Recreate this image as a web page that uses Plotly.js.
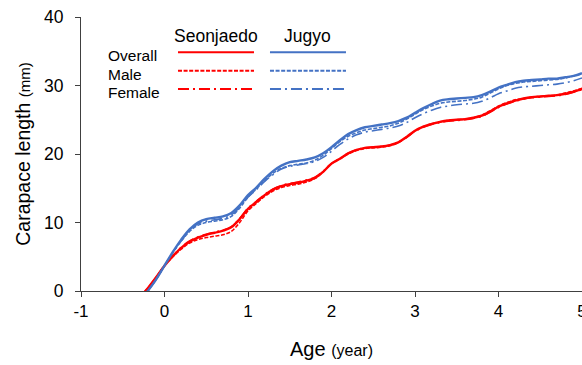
<!DOCTYPE html>
<html>
<head>
<meta charset="utf-8">
<script src="https://cdn.plot.ly/plotly-3.0.1.min.js"></script>
<style>
  html, body { margin: 0; padding: 0; background: #fff; }
  #chart { width: 582px; height: 365px; }
</style>
</head>
<body>
<div id="chart"></div>
<script>
// Age (years) at which carapace length is tabulated
const age = [-0.25, -0.2, -0.1, 0.0, 0.1, 0.2, 0.3, 0.4, 0.5, 0.6, 0.7, 0.8, 0.9,
  1.0, 1.1, 1.2, 1.3, 1.4, 1.5, 1.6, 1.7, 1.8, 1.9,
  2.0, 2.1, 2.2, 2.3, 2.4, 2.5, 2.6, 2.7, 2.8, 2.9,
  3.0, 3.1, 3.2, 3.3, 3.4, 3.5, 3.6, 3.7, 3.8, 3.9,
  4.0, 4.1, 4.2, 4.3, 4.4, 4.5, 4.6, 4.7, 4.8, 4.9, 5.0];

// Seonjaedo growth curves (mm)
const seonjaedoOverall = [-0.3, 0.4, 2.0, 3.7, 5.1, 6.3, 7.2, 7.8, 8.2, 8.5, 8.8, 9.3, 10.5,
  12.0, 13.0, 14.0, 14.8, 15.3, 15.6, 15.8, 16.1, 16.5, 17.4,
  18.6, 19.3, 20.1, 20.6, 20.9, 21.0, 21.1, 21.3, 21.7, 22.5,
  23.4, 24.0, 24.4, 24.7, 24.9, 25.0, 25.1, 25.3, 25.6, 26.2,
  26.9, 27.4, 27.8, 28.1, 28.3, 28.4, 28.5, 28.6, 28.8, 29.1, 29.5];
const seonjaedoMale = [-0.3, 0.4, 2.0, 3.7, 5.0, 6.1, 7.0, 7.5, 7.8, 8.0, 8.2, 8.7, 10.0,
  11.7, 12.8, 13.8, 14.6, 15.1, 15.4, 15.6, 15.9, 16.4, 17.4,
  18.6, 19.3, 20.0, 20.5, 20.8, 20.9, 21.0, 21.2, 21.7, 22.5,
  23.4, 24.0, 24.4, 24.7, 24.9, 25.0, 25.1, 25.3, 25.7, 26.3,
  27.0, 27.5, 27.9, 28.1, 28.3, 28.4, 28.5, 28.6, 28.9, 29.2, 29.6];
const seonjaedoFemale = [-0.3, 0.4, 2.0, 3.7, 5.1, 6.4, 7.3, 7.9, 8.3, 8.6, 8.9, 9.4, 10.6,
  12.1, 13.1, 14.1, 14.9, 15.4, 15.7, 15.9, 16.2, 16.6, 17.5,
  18.6, 19.3, 20.1, 20.6, 20.9, 21.0, 21.1, 21.3, 21.7, 22.4,
  23.3, 23.9, 24.3, 24.6, 24.8, 24.9, 25.0, 25.2, 25.5, 26.1,
  26.8, 27.3, 27.7, 28.0, 28.2, 28.3, 28.4, 28.5, 28.7, 29.0, 29.4];

// Jugyo growth curves (mm)
const jugyoOverall = [-0.8, 0.0, 1.7, 3.7, 5.7, 7.5, 9.0, 10.0, 10.5, 10.7, 10.9, 11.4, 12.5,
  14.0, 15.1, 16.4, 17.5, 18.3, 18.8, 19.0, 19.2, 19.5, 20.1,
  21.0, 22.0, 22.9, 23.5, 23.9, 24.1, 24.3, 24.5, 24.8, 25.3,
  26.0, 26.7, 27.3, 27.8, 28.0, 28.1, 28.2, 28.3, 28.6, 29.1,
  29.7, 30.1, 30.5, 30.7, 30.8, 30.9, 31.0, 31.0, 31.2, 31.4, 31.8];
const jugyoMale = [-0.8, 0.0, 1.7, 3.7, 5.6, 7.3, 8.7, 9.6, 10.0, 10.2, 10.4, 10.9, 12.1,
  13.7, 14.9, 16.1, 17.2, 17.9, 18.3, 18.5, 18.7, 19.1, 19.8,
  20.8, 21.8, 22.6, 23.1, 23.5, 23.7, 23.9, 24.1, 24.5, 25.1,
  25.8, 26.5, 27.0, 27.4, 27.6, 27.7, 27.8, 28.0, 28.3, 28.9,
  29.5, 30.0, 30.3, 30.5, 30.6, 30.7, 30.8, 30.9, 31.1, 31.4, 31.7];
const jugyoFemale = [-0.8, 0.0, 1.7, 3.7, 5.6, 7.3, 8.8, 9.8, 10.2, 10.4, 10.6, 11.1, 12.2,
  13.7, 14.8, 16.0, 17.0, 17.8, 18.2, 18.4, 18.6, 18.9, 19.5,
  20.4, 21.4, 22.2, 22.8, 23.2, 23.4, 23.6, 23.8, 24.1, 24.6,
  25.3, 25.9, 26.4, 26.8, 27.0, 27.2, 27.3, 27.4, 27.7, 28.2,
  28.8, 29.2, 29.6, 29.8, 29.9, 30.0, 30.1, 30.2, 30.4, 30.7, 31.1];

const sites = ["Seonjaedo", "Jugyo"];
const groups = ["Overall", "Male", "Female"];

// Axis ticks (hyphen-minus kept as written on the axis)
const xTickVals = [-1, 0, 1, 2, 3, 4, 5];
const xTickText = ["-1", "0", "1", "2", "3", "4", "5"];
const yTickVals = [0, 10, 20, 30, 40];

// Styling
const siteColor = { Seonjaedo: "#FF0000", Jugyo: "#4472C4" };
const groupDash = { Overall: "solid", Male: "4px,1.6px", Female: "11px,4px,2px,4px" };
const groupWidth = { Overall: 2.4, Male: 1.6, Female: 1.6 };

const series = {
  Seonjaedo: { Overall: seonjaedoOverall, Male: seonjaedoMale, Female: seonjaedoFemale },
  Jugyo: { Overall: jugyoOverall, Male: jugyoMale, Female: jugyoFemale }
};

const FONT = "'Liberation Sans', Arial, sans-serif";

// Draw sex-specific curves first, overall curves on top
const traces = [];
["Female", "Male", "Overall"].forEach(g => {
  sites.forEach(s => {
    traces.push({
      type: "scatter", mode: "lines",
      name: s + " " + g,
      x: age, y: series[s][g],
      line: { color: siteColor[s], dash: groupDash[g], width: groupWidth[g],
              shape: "spline", smoothing: 1 },
      showlegend: false, hoverinfo: "x+y+name"
    });
  });
});

// Key: grid of site columns and group rows, placed in paper coordinates
const keyRowY = { Overall: 0.871, Male: 0.804, Female: 0.737 };
const keyTextY = { Overall: 0.858, Male: 0.791, Female: 0.724 };
const keyCols = { Seonjaedo: [0.1936, 0.3453], Jugyo: [0.3772, 0.5289] };

const shapes = [];
sites.forEach(s => {
  groups.forEach(g => {
    shapes.push({
      type: "line", xref: "paper", yref: "paper",
      x0: keyCols[s][0], x1: keyCols[s][1], y0: keyRowY[g], y1: keyRowY[g],
      line: { color: siteColor[s], dash: groupDash[g], width: 2 }
    });
  });
});

const annotations = [];
sites.forEach(s => {
  annotations.push({
    xref: "paper", yref: "paper",
    x: (keyCols[s][0] + keyCols[s][1]) / 2, y: 0.930,
    xanchor: "center", yanchor: "middle", showarrow: false,
    text: s, font: { family: FONT, size: 17.5, color: "#000" }
  });
});
groups.forEach(g => {
  annotations.push({
    xref: "paper", yref: "paper",
    x: 0.049, y: keyTextY[g],
    xanchor: "left", yanchor: "middle", showarrow: false,
    text: g, font: { family: FONT, size: 15.5, color: "#000" }
  });
});

const layout = {
  width: 582, height: 365,
  margin: { l: 81, r: 0, t: 17, b: 74 },
  paper_bgcolor: "#fff", plot_bgcolor: "#fff",
  font: { family: FONT, color: "#000" },
  xaxis: {
    range: [-1, 5], tickmode: "array", tickvals: xTickVals, ticktext: xTickText,
    ticklabeloverflow: "allow",
    showgrid: false, zeroline: false,
    showline: true, linecolor: "#404040", linewidth: 1,
    ticks: "outside", ticklen: 5, tickcolor: "#404040",
    tickfont: { family: FONT, size: 17, color: "#000" },
    title: { text: "Age <span style='font-size:16px'>(year)</span>",
             font: { family: FONT, size: 20, color: "#000" }, standoff: 21 }
  },
  yaxis: {
    range: [0, 40], tickmode: "array", tickvals: yTickVals,
    showgrid: false, zeroline: false,
    showline: true, linecolor: "#404040", linewidth: 1,
    ticks: "outside", ticklen: 5, tickcolor: "#404040",
    ticklabelstandoff: 8,
    tickfont: { family: FONT, size: 17.5, color: "#000" },
    title: { text: "Carapace length <span style='font-size:15px'>(mm)</span>",
             font: { family: FONT, size: 19.5, color: "#000" }, standoff: 8 }
  },
  shapes: shapes,
  annotations: annotations,
  showlegend: false
};

Plotly.newPlot("chart", traces, layout, { displayModeBar: false, staticPlot: true });
</script>
</body>
</html>
